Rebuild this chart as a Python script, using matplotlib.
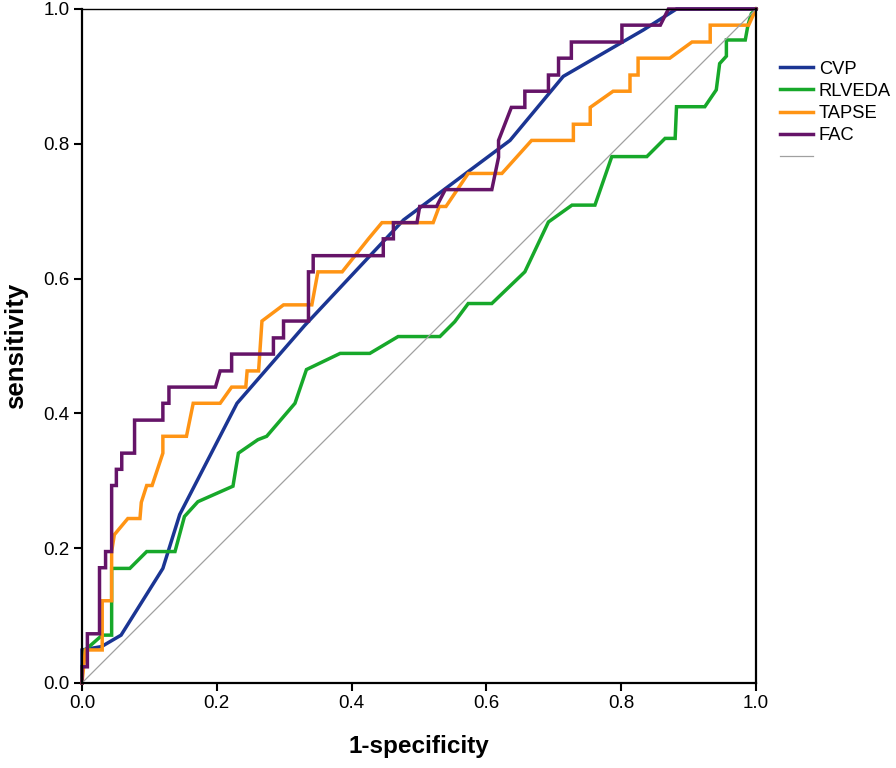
import numpy as np
import matplotlib
matplotlib.use('Agg')
import matplotlib.pyplot as plt

# ROC curve vertices
CVP_X = [0.0, 0.0, 0.029, 0.058, 0.12, 0.145, 0.23, 0.33, 0.477, 0.576, 0.635, 0.714, 0.833, 0.882, 1.0]
CVP_Y = [0.0, 0.049, 0.054, 0.071, 0.17, 0.25, 0.415, 0.53, 0.687, 0.761, 0.805, 0.9, 0.969, 1.0, 1.0]

RLVEDA_X = [0.0, 0.0, 0.005, 0.03, 0.044, 0.044, 0.044, 0.071, 0.096, 0.138, 0.152, 0.172, 0.224,
            0.232, 0.261, 0.274, 0.316, 0.333, 0.383, 0.427, 0.469, 0.531, 0.553, 0.573, 0.608,
            0.657, 0.692, 0.727, 0.761, 0.786, 0.838, 0.865, 0.88, 0.882, 0.924, 0.941, 0.946,
            0.956, 0.956, 0.984, 0.988, 0.993, 1.0]
RLVEDA_Y = [0.0, 0.024, 0.049, 0.071, 0.071, 0.118, 0.17, 0.17, 0.195, 0.195, 0.247, 0.269, 0.292,
            0.341, 0.361, 0.366, 0.415, 0.465, 0.489, 0.489, 0.514, 0.514, 0.536, 0.563, 0.563,
            0.61, 0.684, 0.709, 0.709, 0.781, 0.781, 0.808, 0.808, 0.855, 0.855, 0.88, 0.919,
            0.93, 0.954, 0.954, 0.976, 0.993, 1.0]

TAPSE_X = [0.0, 0.005, 0.03, 0.03, 0.044, 0.044, 0.048, 0.068, 0.086, 0.088, 0.096, 0.104, 0.12,
           0.12, 0.155, 0.165, 0.205, 0.222, 0.243, 0.245, 0.262, 0.267, 0.299, 0.341, 0.35,
           0.386, 0.425, 0.445, 0.521, 0.53, 0.54, 0.573, 0.623, 0.667, 0.729, 0.729, 0.754,
           0.754, 0.788, 0.813, 0.813, 0.825, 0.825, 0.872, 0.905, 0.932, 0.932, 0.989, 1.0]
TAPSE_Y = [0.0, 0.049, 0.049, 0.122, 0.122, 0.195, 0.22, 0.244, 0.244, 0.268, 0.293, 0.293, 0.341,
           0.366, 0.366, 0.415, 0.415, 0.439, 0.439, 0.463, 0.463, 0.537, 0.561, 0.561, 0.61,
           0.61, 0.659, 0.683, 0.683, 0.707, 0.707, 0.756, 0.756, 0.805, 0.805, 0.829, 0.829,
           0.854, 0.878, 0.878, 0.902, 0.902, 0.927, 0.927, 0.951, 0.951, 0.976, 0.976, 1.0]

FAC_X = [0.0, 0.0, 0.008, 0.008, 0.026, 0.026, 0.035, 0.035, 0.044, 0.044, 0.051, 0.051, 0.059,
         0.059, 0.078, 0.078, 0.12, 0.12, 0.129, 0.129, 0.198, 0.205, 0.222, 0.222, 0.284,
         0.284, 0.299, 0.299, 0.336, 0.336, 0.343, 0.343, 0.447, 0.447, 0.462, 0.462, 0.497,
         0.501, 0.526, 0.539, 0.608, 0.618, 0.618, 0.637, 0.657, 0.657, 0.692, 0.692, 0.707,
         0.707, 0.726, 0.726, 0.801, 0.801, 0.858, 0.87, 1.0]
FAC_Y = [0.0, 0.024, 0.024, 0.073, 0.073, 0.171, 0.171, 0.195, 0.195, 0.293, 0.293, 0.317, 0.317,
         0.341, 0.341, 0.39, 0.39, 0.415, 0.415, 0.439, 0.439, 0.463, 0.463, 0.488, 0.488,
         0.512, 0.512, 0.537, 0.537, 0.61, 0.61, 0.634, 0.634, 0.659, 0.659, 0.683, 0.683,
         0.707, 0.707, 0.732, 0.732, 0.78, 0.805, 0.854, 0.854, 0.878, 0.878, 0.902, 0.902,
         0.927, 0.927, 0.951, 0.951, 0.976, 0.976, 1.0, 1.0]

SERIES = ['CVP', 'RLVEDA', 'TAPSE', 'FAC']
COLORS = ['#1b3593', '#17a82a', '#ff9414', '#651468']
TICKS = [0.0, 0.2, 0.4, 0.6, 0.8, 1.0]


def roc_plot(curves):
    fig = plt.figure(figsize=(8.96, 7.68), dpi=100)
    ax = fig.add_axes([0.0915, 0.1107, 0.7523, 0.8776])

    handles = []
    for (xs, ys), name, col in zip(curves, SERIES, COLORS):
        line, = ax.plot(xs, ys, color=col, linewidth=2.5, clip_on=False,
                        solid_joinstyle='miter', label=name)
        handles.append(line)
    ref, = ax.plot([0, 1], [0, 1], color='#a0a0a0', linewidth=0.9)
    handles.append(ref)

    ax.set_xlim(0, 1)
    ax.set_ylim(0, 1)
    ax.set_xticks(TICKS)
    ax.set_yticks(TICKS)
    ax.set_xticklabels(['%.1f' % t for t in TICKS])
    ax.set_yticklabels(['%.1f' % t for t in TICKS])
    ax.tick_params(direction='out', length=6, width=1.5, labelsize=13.5, pad=3)
    for side in ['left', 'bottom', 'right']:
        ax.spines[side].set_linewidth(1.6)
    ax.spines['top'].set_linewidth(1.0)

    ax.set_xlabel('1-specificity', fontsize=17.5, fontweight='bold', labelpad=16)
    ax.set_ylabel('sensitivity', fontsize=18.5, fontweight='bold', labelpad=11)

    fig.legend(handles, SERIES + [''], loc='upper left', bbox_to_anchor=(0.871, 0.921),
               frameon=False, fontsize=13.2, handlelength=1.8, handletextpad=0.3,
               labelspacing=0.28, borderpad=0, borderaxespad=0)

    fig.savefig('out.png', dpi=100)


def main():
    plt.rcParams['font.family'] = ['Liberation Sans', 'DejaVu Sans']
    curves = [(CVP_X, CVP_Y), (RLVEDA_X, RLVEDA_Y), (TAPSE_X, TAPSE_Y), (FAC_X, FAC_Y)]
    roc_plot(curves)


if __name__ == "__main__":
    main()
